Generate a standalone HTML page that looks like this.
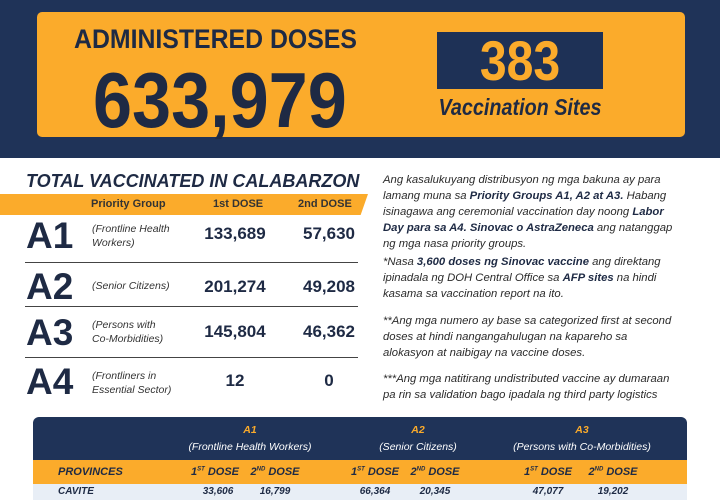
<!DOCTYPE html>
<html><head><meta charset="utf-8"><style>
*{margin:0;padding:0;box-sizing:border-box}
body{width:720px;height:500px;overflow:hidden;background:#fff;font-family:"Liberation Sans",sans-serif;position:relative;color:#1e2a44}
.a{position:absolute;white-space:nowrap}
.hdr{position:absolute;left:0;top:0;width:720px;height:158px;background:#1f3358}
.ob{position:absolute;left:37px;top:12px;width:648px;height:125px;background:#fbab2b;border-radius:5px}
.nb{position:absolute;left:437px;top:32px;width:166px;height:57px;background:#1e3156}
.rt{font-size:11.3px;font-style:italic;color:#2a2a2a;line-height:16px;left:383px}
.rt b{color:#1e2a44}
.big{font-weight:bold;font-size:37px;color:#1e2a44}
.pg{font-size:10.5px;font-style:italic;color:#333;line-height:14px}
.num{font-weight:bold;font-size:17px;color:#1e2a44;text-align:center;width:90px}
.hl{position:absolute;left:25px;width:333px;height:1px;background:#444}
.th{font-size:10.5px;font-style:italic;color:#fff;text-align:center}
.td{font-size:10px;font-style:italic;font-weight:bold;color:#1e2a44;text-align:center;width:60px}
</style></head><body>
<div class="hdr"></div>
<div class="ob"></div>
<div class="a" style="left:74px;top:24px;font-size:27px;font-weight:bold;color:#1e2a44;transform:scaleX(.92);transform-origin:left top">ADMINISTERED DOSES</div>
<div class="a" style="left:93px;top:58px;font-size:78px;font-weight:bold;color:#1e2a44;line-height:84px;transform:scaleX(.9);transform-origin:left top">633,979</div>
<div class="nb"></div>
<div class="a" style="left:437px;top:32px;width:166px;text-align:center;font-size:56px;font-weight:bold;color:#fbab2b;line-height:57px;transform:scaleX(.86)">383</div>
<div class="a" style="left:420px;top:94px;width:200px;text-align:center;font-size:23px;font-weight:bold;font-style:italic;color:#1e2a44;transform:scaleX(.86)">Vaccination Sites</div>

<div class="a" style="left:26px;top:171px;font-size:18px;font-weight:bold;font-style:italic;color:#1e2a44">TOTAL VACCINATED IN CALABARZON</div>
<div class="a" style="left:0;top:194px;width:368px;height:21px;background:#fbab2b;clip-path:polygon(0 0,100% 0,98% 100%,0 100%)"></div>
<div class="a" style="left:91px;top:198px;font-size:11px;font-weight:bold;color:#333">Priority Group</div>
<div class="a" style="left:213px;top:198px;font-size:11px;font-weight:bold;color:#333">1st DOSE</div>
<div class="a" style="left:298px;top:198px;font-size:11px;font-weight:bold;color:#333">2nd DOSE</div>

<div class="a big" style="left:26px;top:215px">A1</div>
<div class="a pg" style="left:92px;top:222px">(Frontline Health<br>Workers)</div>
<div class="a num" style="left:190px;top:224px">133,689</div>
<div class="a num" style="left:284px;top:224px">57,630</div>
<div class="hl" style="top:262px"></div>
<div class="a big" style="left:26px;top:266px">A2</div>
<div class="a pg" style="left:92px;top:279px">(Senior Citizens)</div>
<div class="a num" style="left:190px;top:277px">201,274</div>
<div class="a num" style="left:284px;top:277px">49,208</div>
<div class="hl" style="top:306px"></div>
<div class="a big" style="left:26px;top:312px">A3</div>
<div class="a pg" style="left:92px;top:318px">(Persons with<br>Co-Morbidities)</div>
<div class="a num" style="left:190px;top:322px">145,804</div>
<div class="a num" style="left:284px;top:322px">46,362</div>
<div class="hl" style="top:357px"></div>
<div class="a big" style="left:26px;top:361px">A4</div>
<div class="a pg" style="left:92px;top:369px">(Frontliners in<br>Essential Sector)</div>
<div class="a num" style="left:190px;top:371px">12</div>
<div class="a num" style="left:284px;top:371px">0</div>

<div class="a rt" style="top:172px">Ang kasalukuyang distribusyon ng mga bakuna ay para<br>lamang muna sa <b>Priority Groups A1, A2 at A3.</b> Habang<br>isinagawa ang ceremonial vaccination day noong <b>Labor</b><br><b>Day para sa A4. Sinovac o AstraZeneca</b> ang natanggap<br>ng mga nasa priority groups.</div>
<div class="a rt" style="top:254px">*Nasa <b>3,600 doses ng Sinovac vaccine</b> ang direktang<br>ipinadala ng DOH Central Office sa <b>AFP sites</b> na hindi<br>kasama sa vaccination report na ito.</div>
<div class="a rt" style="top:313px">**Ang mga numero ay base sa categorized first at second<br>doses at hindi nangangahulugan na kapareho sa<br>alokasyon at naibigay na vaccine doses.</div>
<div class="a rt" style="top:371px">***Ang mga natitirang undistributed vaccine ay dumaraan<br>pa rin sa validation bago ipadala ng third party logistics</div>

<div class="a" style="left:33px;top:417px;width:654px;height:83px;background:#1f3358;border-radius:6px 6px 0 0"></div>
<div class="a" style="left:33px;top:460px;width:654px;height:24px;background:#fbab2b"></div>
<div class="a" style="left:33px;top:484px;width:654px;height:16px;background:#e8eef6"></div>
<div class="a th" style="left:175px;top:424px;width:150px;color:#fbab2b;font-weight:bold">A1</div>
<div class="a th" style="left:175px;top:441px;width:150px">(Frontline Health Workers)</div>
<div class="a th" style="left:358px;top:424px;width:120px;color:#fbab2b;font-weight:bold">A2</div>
<div class="a th" style="left:358px;top:441px;width:120px">(Senior Citizens)</div>
<div class="a th" style="left:502px;top:424px;width:160px;color:#fbab2b;font-weight:bold">A3</div>
<div class="a th" style="left:502px;top:441px;width:160px">(Persons with Co-Morbidities)</div>
<div class="a" style="left:58px;top:466px;font-size:11px;font-weight:bold;font-style:italic;color:#1e2a44">PROVINCES</div>
<div class="a td" style="left:185px;top:466px;font-size:11px">1<sup style="font-size:6px">ST</sup> DOSE</div>
<div class="a td" style="left:245px;top:466px;font-size:11px">2<sup style="font-size:6px">ND</sup> DOSE</div>
<div class="a td" style="left:345px;top:466px;font-size:11px">1<sup style="font-size:6px">ST</sup> DOSE</div>
<div class="a td" style="left:405px;top:466px;font-size:11px">2<sup style="font-size:6px">ND</sup> DOSE</div>
<div class="a td" style="left:518px;top:466px;font-size:11px">1<sup style="font-size:6px">ST</sup> DOSE</div>
<div class="a td" style="left:583px;top:466px;font-size:11px">2<sup style="font-size:6px">ND</sup> DOSE</div>
<div class="a" style="left:58px;top:486px;font-size:10px;font-weight:bold;font-style:italic;color:#1e2a44">CAVITE</div>
<div class="a td" style="left:188px;top:486px">33,606</div>
<div class="a td" style="left:245px;top:486px">16,799</div>
<div class="a td" style="left:345px;top:486px">66,364</div>
<div class="a td" style="left:405px;top:486px">20,345</div>
<div class="a td" style="left:518px;top:486px">47,077</div>
<div class="a td" style="left:583px;top:486px">19,202</div>
</body></html>
